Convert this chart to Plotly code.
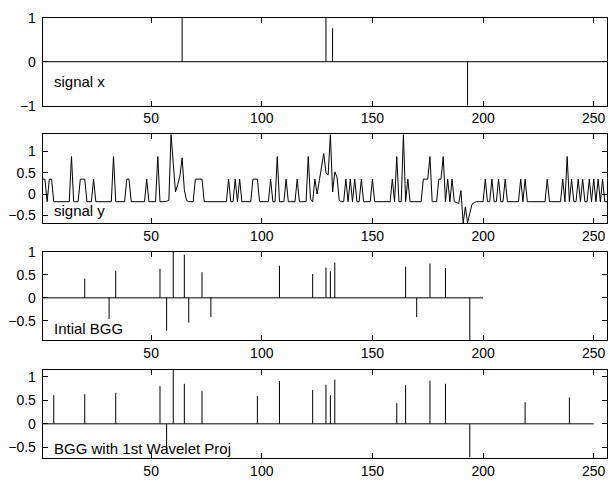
import plotly.graph_objects as go

# ---------------- data ----------------
x_ticks = [50, 100, 150, 200, 250]

# panel 1: sparse signal x
sigx_len = 256
sigx_idx = [64, 129, 132, 193]
sigx_val = [1.0, 1.0, 0.76, -1.0]

# panel 2: signal y (256 samples)
signal_y = [
    0.35, 0.35, -0.18, 0.35, 0.35, -0.18, -0.18, -0.18, -0.18, -0.18,   # 1-10
    -0.18, -0.18, -0.18, 0.88, -0.18, -0.18, -0.18, 0.35, 0.35, 0.35,    # 11-20
    -0.18, -0.18, -0.18, 0.35, -0.18, -0.18, -0.18, -0.18, -0.18, -0.18, # 21-30
    -0.18, -0.18, 0.88, -0.18, -0.18, -0.18, -0.18, -0.18, 0.35, 0.35,   # 31-40
    -0.18, -0.18, -0.18, -0.18, -0.18, -0.18, -0.18, 0.35, -0.18, -0.18, # 41-50
    -0.18, -0.18, 0.88, -0.18, -0.18, -0.18, -0.17, -0.15, 1.40, 0.72,   # 51-60
    0.05, 0.22, 0.42, 0.85, 0.10, -0.15, -0.18, -0.18, -0.18, 0.35,      # 61-70
    0.35, 0.35, 0.35, -0.18, -0.18, -0.18, -0.18, -0.18, -0.18, -0.18,   # 71-80
    -0.18, -0.18, -0.18, -0.18, 0.35, -0.18, -0.18, 0.35, -0.18, 0.35,   # 81-90
    -0.18, -0.18, -0.18, -0.18, -0.18, 0.35, 0.35, 0.35, -0.18, -0.18,   # 91-100
    -0.18, -0.18, -0.18, 0.35, -0.18, -0.18, 0.88, -0.18, -0.18, -0.18,  # 101-110
    0.35, -0.18, -0.18, -0.18, -0.18, 0.35, -0.18, -0.18, -0.18, -0.18,  # 111-120
    0.88, -0.12, -0.18, 0.35, 0.00, 0.30, 0.55, 0.95, 0.50, 0.45,        # 121-130
    1.40, 0.05, 0.52, 0.40, -0.15, -0.18, -0.18, 0.35, -0.18, 0.35,      # 131-140
    -0.18, 0.35, -0.18, -0.18, 0.35, -0.18, -0.18, -0.18, -0.18, 0.35,   # 141-150
    -0.18, -0.18, -0.18, -0.18, -0.18, -0.18, -0.18, -0.18, 0.35, -0.18, # 151-160
    0.88, -0.18, -0.18, 1.40, -0.18, 0.35, -0.18, -0.18, -0.18, -0.18,   # 161-170
    -0.18, -0.18, 0.35, 0.35, 0.35, 0.88, -0.18, -0.18, -0.18, 0.35,     # 171-180
    0.35, 0.88, -0.18, 0.35, -0.18, 0.35, -0.18, -0.20, -0.22, 0.08,     # 181-190
    -0.68, -0.30, -0.68, -0.45, -0.24, -0.20, -0.18, -0.18, -0.18, -0.18,# 191-200
    0.35, -0.18, -0.18, 0.35, -0.18, -0.18, 0.35, -0.18, -0.18, 0.35,    # 201-210
    -0.18, -0.18, -0.18, -0.18, -0.18, -0.18, 0.35, -0.18, 0.35, -0.18,  # 211-220
    -0.18, -0.18, -0.18, -0.18, -0.18, -0.18, -0.18, -0.18, 0.35, -0.18, # 221-230
    -0.18, -0.18, -0.18, -0.18, -0.18, 0.35, -0.18, 0.88, -0.18, 0.35,   # 231-240
    -0.18, -0.18, 0.35, -0.18, 0.35, -0.18, -0.18, 0.35, -0.18, 0.35,    # 241-250
    -0.18, 0.35, -0.18, 0.35, -0.18, -0.18,                              # 251-256
]

# panel 3: initial BGG
bgg_init_len = 200
bgg_init_idx = [20, 31, 34, 54, 57, 60, 65, 67, 73, 77, 108, 123, 129, 131, 133, 165, 170, 176, 183, 194]
bgg_init_val = [0.42, -0.46, 0.59, 0.63, -0.72, 1.0, 0.94, -0.54, 0.56, -0.42, 0.70, 0.52, 0.66, 0.58,
                0.77, 0.68, -0.42, 0.75, 0.65, -0.92]

# panel 4: BGG with 1st wavelet projection
bgg_proj_len = 250
bgg_proj_idx = [6, 20, 34, 54, 57, 60, 65, 73, 98, 108, 123, 129, 131, 133, 161, 165, 176, 183, 194, 219, 239]
bgg_proj_val = [0.61, 0.63, 0.66, 0.80, -0.59, 1.15, 0.85, 0.70, 0.59, 0.91, 0.72, 0.83, 0.61, 0.94,
                0.44, 0.82, 0.92, 0.85, -0.71, 0.46, 0.56]

labels = ["signal x", "signal y", "Intial BGG", "BGG with 1st Wavelet Proj"]
label_pos = [(5, -0.46), (5, -0.38), (5, -0.66), (5, -0.52)]

y_ranges = [[-1, 1], [-0.68, 1.4], [-0.92, 1.0], [-0.72, 1.15]]
y_ticks = [[-1, 0, 1], [-0.5, 0, 0.5, 1], [-0.5, 0, 0.5, 1], [-0.5, 0, 0.5, 1]]

# ---------------- figure ----------------
W, H = 610, 487
panel_px = [(10, 101), (130.7, 222.3), (252.3, 343.3), (374, 465)]
x_left_px, x_right_px = 42.7, 607

FONT = "Liberation Sans, Arial, Helvetica, sans-serif"
fig = go.Figure()


def stems(idx, val):
    xs, ys = [], []
    for i, v in zip(idx, val):
        xs += [i, i, None]
        ys += [0, v, None]
    return xs, ys


line_style = dict(color="black", width=1)

for k in range(4):
    ax = "" if k == 0 else str(k + 1)
    xa, ya = "x" + ax, "y" + ax
    if k == 0:
        fig.add_trace(go.Scatter(x=[1, sigx_len], y=[0, 0], mode="lines", line=dict(color="#333333", width=1.2),
                                 xaxis=xa, yaxis=ya, hoverinfo="skip"))
        sx, sy = stems(sigx_idx, sigx_val)
        fig.add_trace(go.Scatter(x=sx, y=sy, mode="lines", line=line_style, xaxis=xa, yaxis=ya))
    elif k == 1:
        fig.add_trace(go.Scatter(x=list(range(1, len(signal_y) + 1)), y=signal_y, mode="lines",
                                 line=line_style, xaxis=xa, yaxis=ya))
    elif k == 2:
        fig.add_trace(go.Scatter(x=[1, bgg_init_len], y=[0, 0], mode="lines", line=line_style,
                                 xaxis=xa, yaxis=ya))
        sx, sy = stems(bgg_init_idx, bgg_init_val)
        fig.add_trace(go.Scatter(x=sx, y=sy, mode="lines", line=line_style, xaxis=xa, yaxis=ya))
    else:
        fig.add_trace(go.Scatter(x=[1, bgg_proj_len], y=[0, 0], mode="lines", line=line_style,
                                 xaxis=xa, yaxis=ya))
        sx, sy = stems(bgg_proj_idx, bgg_proj_val)
        fig.add_trace(go.Scatter(x=sx, y=sy, mode="lines", line=line_style, xaxis=xa, yaxis=ya))

    top, bot = panel_px[k]
    common = dict(showline=True, linecolor="black", linewidth=1, mirror="ticks", ticks="inside",
                  ticklen=5, tickcolor="black", tickwidth=1, showgrid=False, zeroline=False,
                  tickfont=dict(family=FONT, size=14, color="black"))
    fig.layout["xaxis" + ax] = dict(common, domain=[x_left_px / W, x_right_px / W], range=[1, 256],
                                    tickvals=x_ticks, anchor=ya)
    fig.layout["yaxis" + ax] = dict(common, domain=[(H - bot) / H, (H - top) / H], range=y_ranges[k],
                                    tickvals=y_ticks[k], anchor=xa, ticklabelstandoff=3)
    fig.add_annotation(x=label_pos[k][0], y=label_pos[k][1], xref=xa, yref=ya, text=labels[k],
                       showarrow=False, xanchor="left", yanchor="middle",
                       font=dict(family=FONT, size=15, color="black"))

fig.update_layout(width=W, height=H, margin=dict(l=0, r=0, t=0, b=0), showlegend=False,
                  plot_bgcolor="white", paper_bgcolor="white")

fig.write_html("out.html", config={"displayModeBar": False},
               post_script="document.body.style.margin='0';document.body.style.overflow='hidden';")
